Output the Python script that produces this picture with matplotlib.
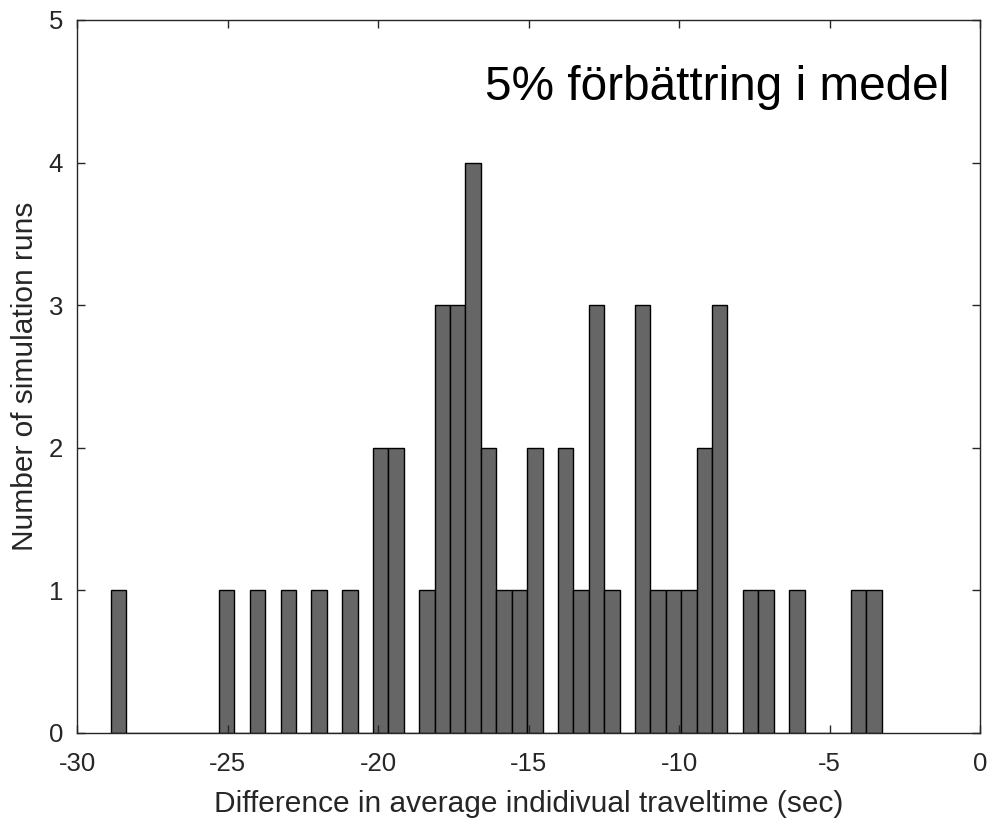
import matplotlib
matplotlib.use("Agg")
import matplotlib.pyplot as plt
import numpy as np

plt.rcParams['font.family'] = ['Liberation Sans', 'DejaVu Sans']

# Histogram data (50 bins)
bin_start = -28.87
bin_width = 0.512
counts = [1, 0, 0, 0, 0, 0, 0, 1, 0, 1,
          0, 1, 0, 1, 0, 1, 0, 2, 2, 0,
          1, 3, 3, 4, 2, 1, 1, 2, 0, 2,
          1, 3, 1, 0, 3, 1, 1, 1, 2, 3,
          0, 1, 1, 0, 1, 0, 0, 0, 1, 1]
xticks = [-30, -25, -20, -15, -10, -5, 0]
yticks = [0, 1, 2, 3, 4, 5]
xlabel = "Difference in average indidivual traveltime (sec)"
ylabel = "Number of simulation runs"
annotation = "5% förbättring i medel"

edges = bin_start + bin_width * np.arange(len(counts) + 1)

fig = plt.figure(figsize=(9.9, 8.22), dpi=100)
ax = fig.add_axes([0.0778, 0.1083, 0.9121, 0.8674])

ax.bar(edges[:-1], counts, width=bin_width, align='edge',
       color='#666666', edgecolor='black', linewidth=1.0)

ax.set_xlim(-30, 0)
ax.set_ylim(0, 5)
ax.set_xticks(xticks)
ax.set_yticks(yticks)
ax.set_xticklabels([str(t) for t in xticks])
ax.set_yticklabels([str(t) for t in yticks])

axcol = '#262626'
for s in ax.spines.values():
    s.set_color(axcol)
    s.set_linewidth(1.0)
ax.tick_params(direction='in', length=6, width=1.0, colors=axcol,
               labelsize=18.5, top=True, right=True)
ax.tick_params(axis='x', pad=14)
ax.tick_params(axis='y', pad=10)
ax.set_xlabel(xlabel, fontsize=21.5, color=axcol, labelpad=10)
ax.set_ylabel(ylabel, fontsize=21.5, color=axcol, labelpad=7)

ax.text(0.452, 0.888, annotation, transform=ax.transAxes,
        fontsize=34.4, color='black', ha='left', va='baseline')

fig.savefig("out.png", dpi=100)
